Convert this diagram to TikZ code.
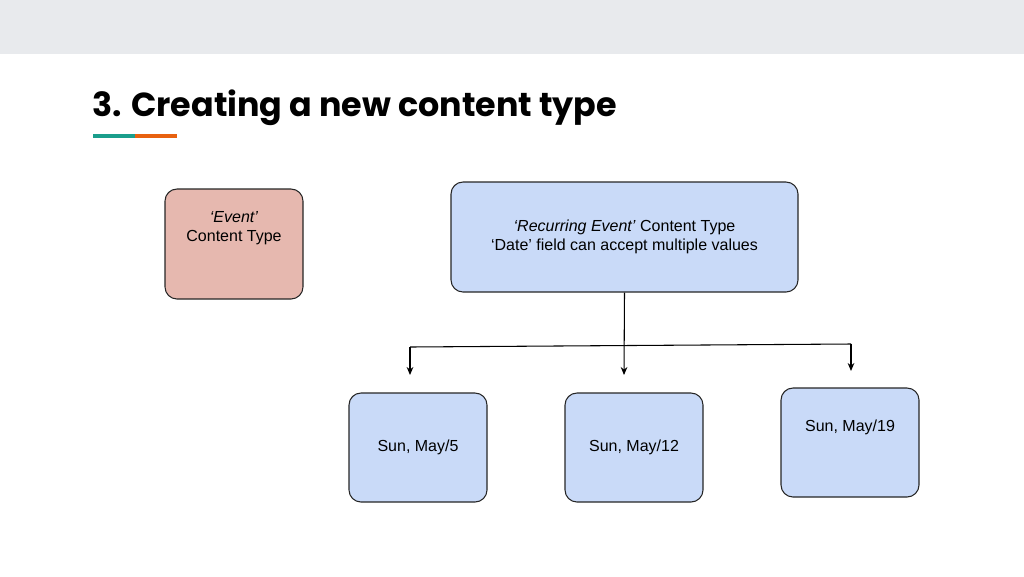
\documentclass[tikz,border=0pt]{standalone}
\usepackage{fontspec}
\setmainfont{Liberation Sans}
\newfontfamily\titlefont{Poppins}
\usetikzlibrary{arrows.meta}
\definecolor{barc}{HTML}{E8EAED}
\definecolor{pinkc}{HTML}{E6B8AF}
\definecolor{bluec}{HTML}{C9DAF8}
\definecolor{tealc}{HTML}{1A9E8C}
\definecolor{orangec}{HTML}{E8610F}
\begin{document}
\begin{tikzpicture}[x=0.75pt,y=-0.75pt,
  box/.style={draw=black!85,line width=0.8pt,rounded corners=9pt,align=center,font=\fontsize{12}{14.5}\selectfont},
  arr/.style={-{Stealth[length=6pt,width=5pt]},line width=0.8pt}]
\useasboundingbox (0,0) rectangle (1024,576);
\fill[barc] (0,0) rectangle (1024,54);
\node[anchor=base west,inner sep=0pt,font=\titlefont\fontsize{25}{30}\selectfont\bfseries] (title) at (92,116) {3. Creating a new content type};
\fill[tealc] (93,134) rectangle (135,138);
\fill[orangec] (135,134) rectangle (177,138);
\node[box,fill=pinkc,minimum width=138*0.75pt,minimum height=110*0.75pt] (ev) at (234,244) {\textit{‘Event’}\\Content Type\\[12pt]};
\node[box,fill=bluec,minimum width=347*0.75pt,minimum height=110*0.75pt] (re) at (624.5,237) {\textit{‘Recurring Event’} Content Type\\‘Date’ field can accept multiple values};
\node[box,fill=bluec,minimum width=138*0.75pt,minimum height=109*0.75pt] (d1) at (418,447.5) {Sun, May/5};
\node[box,fill=bluec,minimum width=138*0.75pt,minimum height=109*0.75pt] (d2) at (634,447.5) {Sun, May/12};
\node[box,fill=bluec,minimum width=138*0.75pt,minimum height=109*0.75pt] (d3) at (850,442.5) {Sun, May/19\\[10pt]};
\coordinate (l) at (410,347);
\coordinate (r) at (851,344);
\coordinate (la) at (410,375);
\coordinate (ma) at (624,375);
\coordinate (ra) at (851,371);
\draw[line width=0.8pt] (l) -- (r);
\draw[arr] (re.south) -- (ma);
\draw[arr] (l) -- (la);
\draw[arr] (r) -- (ra);
\end{tikzpicture}
\end{document}
